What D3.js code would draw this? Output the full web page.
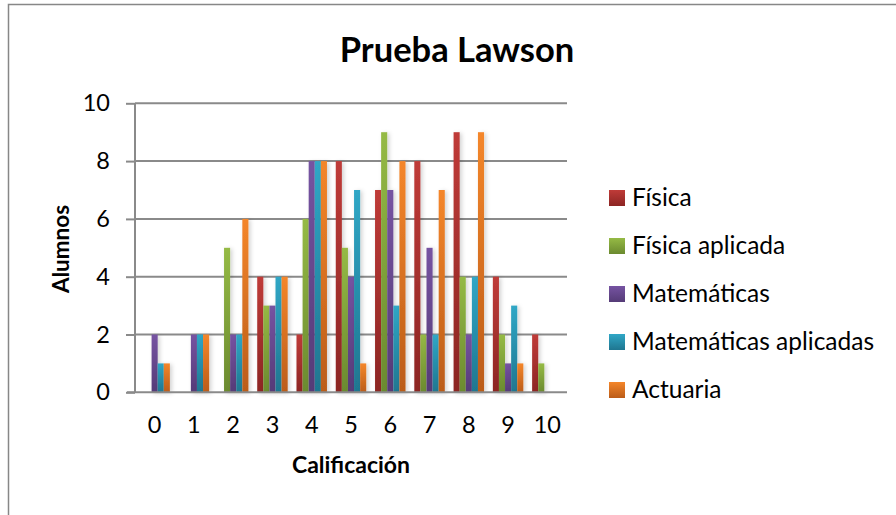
<!DOCTYPE html>
<html>
<head>
<meta charset="utf-8">
<script src="https://cdn.jsdelivr.net/npm/d3@7"></script>
<style>
  body { margin: 0; background: #fff; }
  svg { display: block; font-family: Lato, "Open Sans", sans-serif; }
</style>
</head>
<body>
<div id="chart"></div>
<script>
// categories on the x axis (calificación)
var categories = ["0", "1", "2", "3", "4", "5", "6", "7", "8", "9", "10"];
var seriesNames = ["Física", "Física aplicada", "Matemáticas", "Matemáticas aplicadas", "Actuaria"];

// alumnos per calificación, one array per carrera
var fisica       = [0, 0, 0, 4, 2, 8, 7, 8, 9, 4, 2];
var fisicaAplic  = [0, 0, 5, 3, 6, 5, 9, 2, 4, 2, 1];
var matematicas  = [2, 2, 2, 3, 8, 4, 7, 5, 2, 1, 0];
var matesAplic   = [1, 2, 2, 4, 8, 7, 3, 2, 4, 3, 0];
var actuaria     = [1, 2, 6, 4, 8, 1, 8, 7, 9, 1, 0];
var yTicks = [0, 2, 4, 6, 8, 10];

var seriesValues = [fisica, fisicaAplic, matematicas, matesAplic, actuaria];
// top / bottom gradient colours
var colors = [
  ["#bf3b38", "#8c2523"],
  ["#95ba45", "#6b8a2f"],
  ["#7653a2", "#553b77"],
  ["#30a7c6", "#1f7690"],
  ["#f4862a", "#bb5c19"]
];

var W = 896, H = 515;
var svg = d3.select("#chart").append("svg").attr("width", W).attr("height", H);

var defs = svg.append("defs");
colors.forEach(function(c, i) {
  var g = defs.append("linearGradient").attr("id", "grad" + i)
    .attr("x1", 0).attr("y1", 0).attr("x2", 0).attr("y2", 1);
  g.append("stop").attr("offset", "0%").attr("stop-color", c[0]);
  g.append("stop").attr("offset", "100%").attr("stop-color", c[1]);
});
var f = defs.append("filter").attr("id", "shadow")
  .attr("x", "-50%").attr("y", "-10%").attr("width", "200%").attr("height", "120%");
f.append("feDropShadow").attr("dx", 2).attr("dy", 1).attr("stdDeviation", 2)
  .attr("flood-color", "#000").attr("flood-opacity", 0.18);

// chart frame
svg.append("rect").attr("x", 8.5).attr("y", 4.5).attr("width", 900).attr("height", 520)
  .attr("fill", "#fff").attr("stroke", "#878787").attr("stroke-width", 1.5);

var plotL = 135, plotR = 567, plotT = 103.3, plotB = 392.3;

var x = d3.scaleBand().domain(categories).range([plotL, plotR])
  .paddingInner(0.224).paddingOuter(0.112);
var xs = d3.scaleBand().domain(d3.range(seriesNames.length)).range([0, x.bandwidth()]);
var y = d3.scaleLinear().domain([0, 10]).range([plotB, plotT]);

// gridlines
svg.append("g").selectAll("line").data(yTicks.filter(function(d) { return d > 0; }))
  .enter().append("line")
  .attr("x1", plotL).attr("x2", plotR)
  .attr("y1", function(d) { return y(d); }).attr("y2", function(d) { return y(d); })
  .attr("stroke", "#8a8a8a").attr("stroke-width", 2);

// bars
var groups = svg.append("g").selectAll("g").data(seriesValues).enter().append("g")
  .attr("fill", function(d, i) { return "url(#grad" + i + ")"; })
  .attr("filter", "url(#shadow)");
groups.each(function(vals, si) {
  d3.select(this).selectAll("rect").data(vals).enter().append("rect")
    .attr("x", function(d, i) { return x(categories[i]) + xs(si); })
    .attr("width", xs.bandwidth())
    .attr("y", function(d) { return y(d); })
    .attr("height", function(d) { return plotB - y(d); });
});

// y axis
var yAxis = svg.append("g").attr("transform", "translate(" + plotL + ",0)")
  .call(d3.axisLeft(y).tickValues(yTicks).tickSize(9).tickPadding(16).tickFormat(d3.format("d")));
yAxis.select(".domain").attr("stroke", "#8a8a8a").attr("stroke-width", 2)
  .attr("d", "M0," + plotT + "V" + plotB);
yAxis.selectAll(".tick line").attr("stroke", "#8a8a8a").attr("stroke-width", 2);
yAxis.selectAll("text").attr("font-size", 23.5).attr("fill", "#000")
  .attr("font-family", "Lato, sans-serif");

// x axis
var xAxis = svg.append("g").attr("transform", "translate(0," + plotB + ")")
  .call(d3.axisBottom(x).tickSize(0).tickPadding(24));
xAxis.select(".domain").attr("stroke", "#8a8a8a").attr("stroke-width", 2)
  .attr("d", "M" + (plotL - 8) + ",0H" + plotR);
xAxis.selectAll("text").attr("font-size", 23.5).attr("fill", "#000")
  .attr("font-family", "Lato, sans-serif");

// title and axis titles
svg.append("text").attr("x", 457).attr("y", 62).attr("text-anchor", "middle")
  .attr("font-size", 34.5).attr("font-weight", "bold").text("Prueba Lawson");
svg.append("text").attr("transform", "translate(69,249) rotate(-90)")
  .attr("text-anchor", "middle").attr("font-size", 22.5).attr("font-weight", "bold")
  .text("Alumnos");
svg.append("text").attr("x", 351).attr("y", 473).attr("text-anchor", "middle")
  .attr("font-size", 23).attr("font-weight", "bold").text("Calificación");

// legend
var legend = svg.append("g").selectAll("g").data(seriesNames).enter().append("g")
  .attr("transform", function(d, i) { return "translate(609," + (198 + i * 48) + ")"; });
legend.append("rect").attr("x", 0).attr("y", -8).attr("width", 16).attr("height", 16)
  .attr("fill", function(d, i) { return "url(#grad" + i + ")"; });
legend.append("text").attr("x", 23).attr("y", 8).attr("font-size", 24.5).text(function(d) { return d; });
</script>
</body>
</html>
